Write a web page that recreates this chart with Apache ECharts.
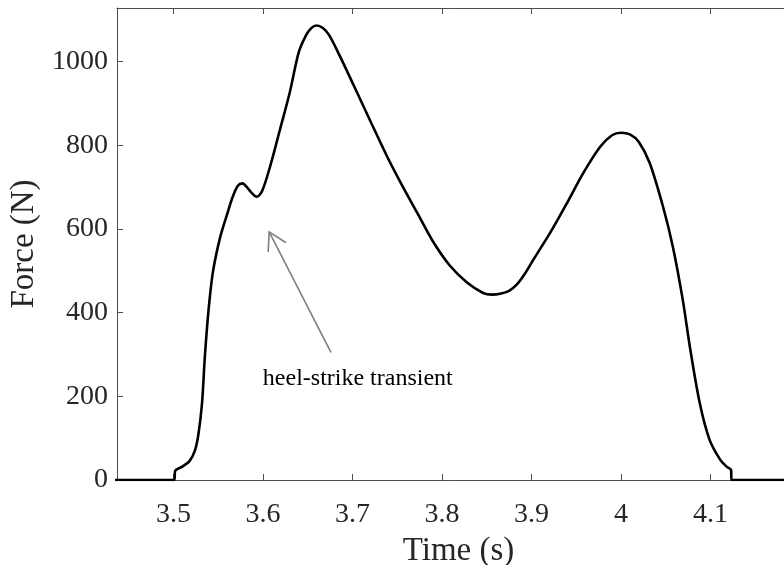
<!DOCTYPE html>
<html>
<head>
<meta charset="utf-8">
<script src="https://cdn.jsdelivr.net/npm/echarts@6/dist/echarts.min.js"></script>
<style>html,body{margin:0;padding:0;background:#fff}#c{width:784px;height:565px}</style>
</head>
<body>
<div id="c"></div>
<script>
const timeS = [3.430,3.501,3.502,3.510,3.518,3.524,3.528,3.532,3.535,3.539,3.544,3.552,3.560,3.566,3.572,3.577,3.582,3.588,3.593,3.599,3.608,3.619,3.630,3.640,3.648,3.654,3.660,3.667,3.674,3.686,3.701,3.720,3.739,3.757,3.772,3.790,3.809,3.828,3.846,3.856,3.865,3.875,3.884,3.893,3.902,3.921,3.940,3.958,3.977,3.990,4.000,4.010,4.020,4.032,4.047,4.058,4.069,4.077,4.088,4.099,4.111,4.118,4.1230,4.1235,4.250];
const forceN = [0,0,22,32,45,70,110,184,290,400,495,578,635,675,703,709,700,685,677,690,749,837,926,1022,1062,1080,1086,1080,1063,1013,945,858,772,698,640,570,512,472,447,443,445,452,468,494,526,591,663,734,797,824,830,826,808,758,653,557,431,318,184,96,48,32,24,0,0];
const xTicks = [3.5,3.6,3.7,3.8,3.9,4.0,4.1];
const yTicks = [0,200,400,600,800,1000];
const arrowTail = [3.676, 305];
const arrowHead = [3.607, 593];
const noteText = 'heel-strike transient';
const notePos = [3.706, 243];

const font = 'Liberation Serif, Times New Roman, serif';
const axisCol = '#262626';
const lineCol = '#4d4d4d';
const chart = echarts.init(document.getElementById('c'));
const data = timeS.map((t, i) => [t, forceN[i]]);

chart.setOption({
  animation: false,
  grid: {left: 117, top: 8, bottom: 85, right: -16, containLabel: false, outerBoundsMode: 'none'},
  xAxis: [{
    type: 'value', min: 3.437, max: 4.2, position: 'bottom',
    axisLine: {show: true, lineStyle: {color: lineCol, width: 1}},
    axisTick: {show: true, inside: true, length: 6, customValues: xTicks, lineStyle: {color: lineCol}},
    axisLabel: {customValues: xTicks, margin: 21, color: axisCol, fontFamily: font, fontSize: 28,
      formatter: v => String(+(+v).toFixed(1))},
    splitLine: {show: false},
    name: 'Time (s)', nameLocation: 'middle', nameGap: 55,
    nameTextStyle: {fontFamily: font, fontSize: 33, color: axisCol}
  }, {
    type: 'value', min: 3.437, max: 4.2, position: 'top',
    axisLine: {show: true, onZero: false, lineStyle: {color: lineCol, width: 1}},
    axisTick: {show: true, inside: true, length: 6, customValues: xTicks, lineStyle: {color: lineCol}},
    axisLabel: {show: false}, splitLine: {show: false}
  }],
  yAxis: [{
    type: 'value', min: 0, max: 1128, interval: 200,
    axisLine: {show: true, lineStyle: {color: lineCol, width: 1}},
    axisTick: {show: true, inside: true, length: 6, customValues: yTicks, lineStyle: {color: lineCol}},
    axisLabel: {customValues: yTicks, margin: 9, color: axisCol, fontFamily: font, fontSize: 28,
      formatter: v => String(v)},
    splitLine: {show: false},
    name: 'Force (N)', nameLocation: 'middle', nameGap: 74,
    nameTextStyle: {fontFamily: font, fontSize: 33, color: axisCol}
  }],
  series: [{
    type: 'line', data: data, showSymbol: false, smooth: 0.3, clip: true,
    lineStyle: {color: '#000', width: 2.6}
  }, {
    type: 'custom', clip: false,
    data: [[arrowTail[0], arrowTail[1], arrowHead[0], arrowHead[1]]],
    renderItem: (params, api) => {
      const p0 = api.coord([api.value(0), api.value(1)]);
      const p1 = api.coord([api.value(2), api.value(3)]);
      const ang = Math.atan2(p0[1] - p1[1], p0[0] - p1[0]);
      const L = 20, a = Math.PI / 6;
      const h1 = [p1[0] + L * Math.cos(ang + a), p1[1] + L * Math.sin(ang + a)];
      const h2 = [p1[0] + L * Math.cos(ang - a), p1[1] + L * Math.sin(ang - a)];
      const st = {stroke: '#7f7f7f', lineWidth: 1.6, fill: null};
      const tp = api.coord(notePos);
      return {type: 'group', children: [
        {type: 'line', shape: {x1: p0[0], y1: p0[1], x2: p1[0], y2: p1[1]}, style: st},
        {type: 'polyline', shape: {points: [h1, p1, h2]}, style: st},
        {type: 'text', x: tp[0], y: tp[1], style: {text: noteText, fontFamily: font, fontSize: 24,
          fill: '#000', align: 'center', verticalAlign: 'middle'}}
      ]};
    }
  }]
});
</script>
</body>
</html>
